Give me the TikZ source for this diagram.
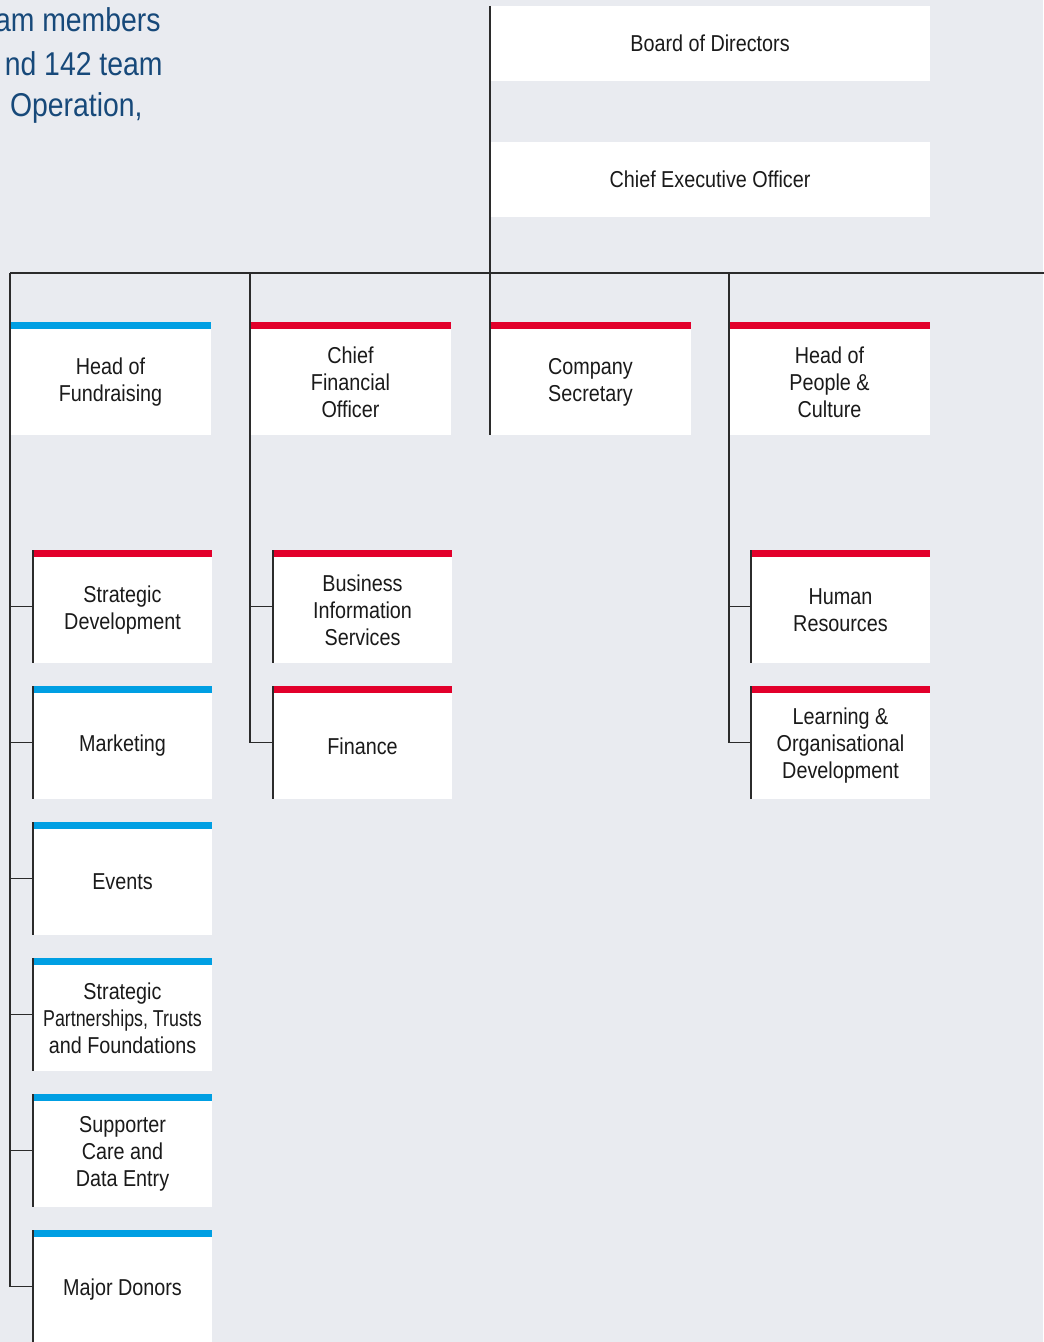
\documentclass[tikz,border=0pt]{standalone}
\usepackage{fontspec}
\setmainfont{Liberation Sans}[FakeStretch=0.86]
\usepackage{graphicx}
\usetikzlibrary{positioning}
\definecolor{paper}{HTML}{E9EBF0}
\definecolor{ink}{HTML}{1A1A1A}
\definecolor{rule}{HTML}{2B2B2B}
\definecolor{sky}{HTML}{009FE3}
\definecolor{crimson}{HTML}{E2002B}
\definecolor{navy}{HTML}{17497A}
\begin{document}
\begin{tikzpicture}[x=0.5pt, y=-0.5pt,
      unitbox/.style={fill=white, inner sep=2pt, outer sep=0pt, align=center, anchor=north west, text=ink, font=\fontsize{11.5}{13.5}\selectfont},
      govbox/.style={unitbox, minimum width=220pt, minimum height=37.5pt},
      headbox/.style={unitbox, minimum width=100.5pt, minimum height=53pt},
      teambox/.style={unitbox, minimum width=89.5pt, minimum height=53pt},
      conn/.style={draw=rule, line width=0.7pt},
      introtext/.style={anchor=base east, text=navy, inner sep=0pt, font=\fontsize{16.5}{21.5}\selectfont}]
    \fill[paper] (0,0) rectangle (1043,1342);
    \useasboundingbox (0,0) rectangle (1043,1342);
    % intro paragraph, cut at the left edge
    \node[introtext] (introa) at (161,32) {am members};
    \node[introtext] (introb) at (163,76) {nd 142 team};
    \node[introtext] (introc) at (143,117) {Operation,};
    % governance
    \node[govbox] (board) at (490,6) {Board of Directors};
    \node[govbox] (ceo) at (490,142) {Chief Executive Officer};
    \coordinate[below=28pt of ceo.south west] (bus);
    \coordinate (busend) at (1050,273);
    % heads
    \node[headbox] (fund) at (10,329) {Head of\\Fundraising};
    \node[headbox] (cfo) at (250,329) {Chief\\Financial\\Officer};
    \node[headbox] (sec) at (490,329) {Company\\Secretary};
    \node[headbox] (ppl) at (729,329) {Head of\\People \&\\Culture};
    % fundraising teams
    \node[teambox] (sd) at (33,557) {Strategic\\Development};
    \node[teambox, below=15pt of sd.south west, anchor=north west] (mkt) {Marketing};
    \node[teambox, below=15pt of mkt.south west, anchor=north west] (ev) {Events};
    \node[teambox, below=15pt of ev.south west, anchor=north west] (sp) {Strategic\\\scalebox{0.9}[1]{Partnerships, Trusts}\\and Foundations};
    \node[teambox, below=15pt of sp.south west, anchor=north west] (sc) {Supporter\\Care and\\Data Entry};
    \node[teambox, below=15pt of sc.south west, anchor=north west] (md) {Major Donors};
    % finance teams
    \node[teambox] (bis) at (273,557) {Business\\Information\\Services};
    \node[teambox, below=15pt of bis.south west, anchor=north west] (fin) {Finance};
    % people teams
    \node[teambox] (hr) at (751,557) {Human\\Resources};
    \node[teambox, below=15pt of hr.south west, anchor=north west] (lod) {Learning \&\\Organisational\\Development};
    % colour bars
    \foreach \n/\c in {fund/sky, cfo/crimson, sec/crimson, ppl/crimson, sd/crimson, mkt/sky, ev/sky, sp/sky, sc/sky, md/sky, bis/crimson, fin/crimson, hr/crimson, lod/crimson}
      \fill[\c] (\n.north west) rectangle ([yshift=3.5pt]\n.north east);
    \foreach \n in {sd, mkt, ev, sp, sc, md, bis, fin, hr, lod}
      \draw[conn] ([yshift=3.5pt]\n.north west) -- (\n.south west);
    % connectors
    \draw[conn] (board.north west) -- (sec.south west);
    \draw[conn] (fund.west |- bus) -- (busend);
    \draw[conn] (fund.west |- bus) |- ([yshift=1.75pt]md.west);
    \foreach \n in {sd, mkt, ev, sp, sc}
      \draw[conn] ([yshift=1.75pt]\n.west -| fund.west) -- ([yshift=1.75pt]\n.west);
    \draw[conn] (cfo.west |- bus) |- ([yshift=1.75pt]fin.west);
    \draw[conn] ([yshift=1.75pt]bis.west -| cfo.west) -- ([yshift=1.75pt]bis.west);
    \draw[conn] (ppl.west |- bus) |- ([yshift=1.75pt]lod.west);
    \draw[conn] ([yshift=1.75pt]hr.west -| ppl.west) -- ([yshift=1.75pt]hr.west);
  \end{tikzpicture}
\end{document}
